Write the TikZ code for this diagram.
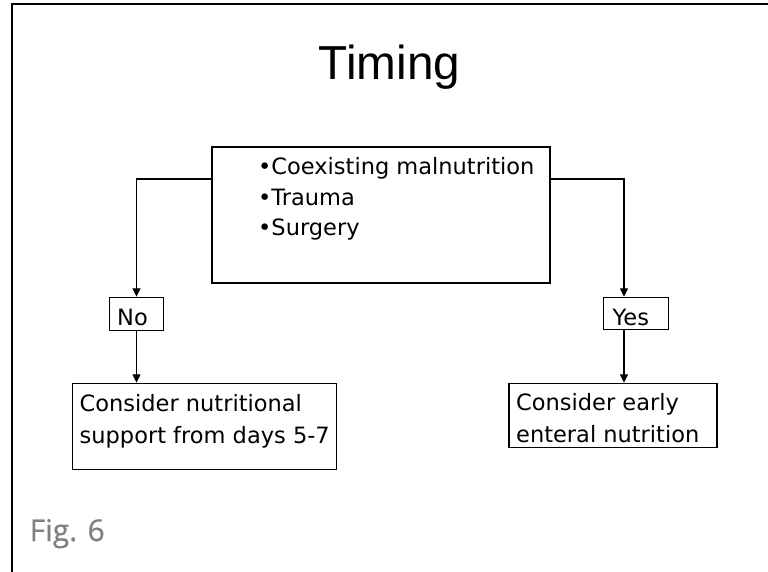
\documentclass[tikz,border=0pt]{standalone}
\usepackage{fontspec}
\setmainfont{DejaVu Sans}
\newfontfamily\titlefont{Liberation Sans}
\newfontfamily\figfont[FakeBold=0.6]{Open Sans}
\usetikzlibrary{arrows.meta,calc}
\tikzset{
  box/.style={draw=black, line width=1.1pt, inner sep=0pt, fill=none},
  txt/.style={anchor=base west, inner sep=0pt, font=\fontsize{22.5}{27}\selectfont},
  conn/.style={draw=black, line width=1.4pt, -{Triangle[length=8.5pt,width=8pt]}},
  frame/.style={draw=black, line width=2pt}
}
\begin{document}
\begin{tikzpicture}[x=1pt,y=-1pt]
\useasboundingbox (0,0) rectangle (768,572);
\fill[white] (0,0) rectangle (768,572);
% frame (only left and top edges visible)
\draw[frame] (11.5,575) -- (11.5,4.5) -- (770,4.5);

% title
\node[anchor=base, inner sep=0pt, font=\titlefont\fontsize{47.7}{50}\selectfont] (title) at (389.5,80) {Timing};

% main box
\node[box, minimum width=338pt, minimum height=136pt] (main) at (381,215) {};
\node[txt] (l1) at (258,175) {•Coexisting malnutrition};
\node[txt] (l2) at (258,205) {•Trauma};
\node[txt] (l3) at (258,235) {•Surgery};

% No / Yes boxes
\node[box, minimum width=54.4pt, minimum height=33.4pt] (no) at (136.5,314) {};
\node[txt] (notext) at (117,325.7) {No};
\node[box, minimum width=65pt, minimum height=32pt] (yes) at (635.8,313.3) {};
\node[txt] (yestext) at (612.5,325) {Yes};

% outcome boxes
\node[box, minimum width=263.7pt, minimum height=86pt] (left) at (204.2,426.3) {};
\node[txt] (lt1) at (79.5,411.7) {Consider nutritional};
\node[txt] (lt2) at (79.5,443.3) {support from days 5-7};
\node[box, minimum width=208pt, minimum height=64pt] (right) at (613,415.3) {};
\node[txt] (rt1) at (516,410.7) {Consider early};
\node[txt] (rt2) at (516,442.7) {enteral nutrition};

% connector end points
\coordinate (ml) at (main.west |- 0,179);
\coordinate (mr) at (main.east |- 0,179);
\coordinate (yesin) at (624,0 |- yes.north);
\coordinate (yesout) at (624,0 |- yes.south);
\coordinate (rightin) at (624,0 |- right.north);

\draw[conn] (ml) -| (no.north);
\draw[conn] (no.south) -- (left.north -| no.south);
\draw[conn] (mr) -| (yesin);
\draw[conn] (yesout) -- (rightin);

% figure label
\node[anchor=base west, inner sep=0pt, text=black!50, font=\figfont\fontsize{30}{34}\selectfont] (fig) at (29.5,541) {Fig. 6};
\end{tikzpicture}
\end{document}
